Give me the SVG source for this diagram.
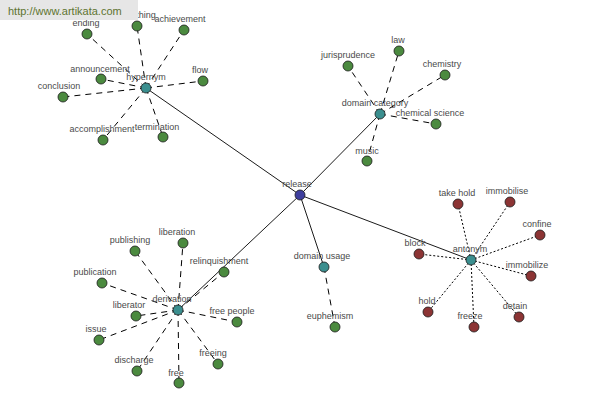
<svg xmlns="http://www.w3.org/2000/svg" width="600" height="400" viewBox="0 0 600 400">
<style>
text{font-family:"Liberation Sans",Arial,sans-serif;font-size:9px;fill:#4a4a4a;text-anchor:middle}
.n circle{stroke:#1a1a1a;stroke-width:0.8}
.g{fill:#4b8a3f}.t{fill:#3b8f8f}.r{fill:#8c3434}.b{fill:#3f3f9e}
.solid{stroke:#000;stroke-width:0.9;fill:none}
.dash{stroke:#000;stroke-width:1;stroke-dasharray:6,5;fill:none}
.dot{stroke:#000;stroke-width:1;stroke-dasharray:2,2;fill:none}
</style>
<rect width="600" height="400" fill="#fff"/>
<g id="connectors">
<line class="solid" x1="300" y1="195" x2="146" y2="88"/>
<line class="solid" x1="300" y1="195" x2="380" y2="114"/>
<line class="solid" x1="300" y1="195" x2="178" y2="310"/>
<line class="solid" x1="300" y1="195" x2="471" y2="260"/>
<line class="solid" x1="300" y1="195" x2="324" y2="267"/>
<g class="dash">
<line x1="146" y1="88" x2="87" y2="34"/>
<line x1="146" y1="88" x2="137" y2="26"/>
<line x1="146" y1="88" x2="184" y2="30"/>
<line x1="146" y1="88" x2="101" y2="79"/>
<line x1="146" y1="88" x2="203" y2="81"/>
<line x1="146" y1="88" x2="63" y2="97"/>
<line x1="146" y1="88" x2="103" y2="140"/>
<line x1="146" y1="88" x2="163" y2="137"/>
<line x1="380" y1="114" x2="399" y2="51"/>
<line x1="380" y1="114" x2="348" y2="66"/>
<line x1="380" y1="114" x2="445" y2="75"/>
<line x1="380" y1="114" x2="436" y2="124"/>
<line x1="380" y1="114" x2="367" y2="161"/>
<line x1="178" y1="310" x2="183" y2="243"/>
<line x1="178" y1="310" x2="135" y2="251"/>
<line x1="178" y1="310" x2="224" y2="272"/>
<line x1="178" y1="310" x2="102" y2="283"/>
<line x1="178" y1="310" x2="136" y2="316"/>
<line x1="178" y1="310" x2="237" y2="322"/>
<line x1="178" y1="310" x2="99" y2="340"/>
<line x1="178" y1="310" x2="137" y2="371"/>
<line x1="178" y1="310" x2="218" y2="364"/>
<line x1="178" y1="310" x2="179" y2="383"/>
<line x1="324" y1="267" x2="335" y2="327"/>
</g>
<g class="dot">
<line x1="471" y1="260" x2="458" y2="204"/>
<line x1="471" y1="260" x2="510" y2="202"/>
<line x1="471" y1="260" x2="540" y2="235"/>
<line x1="471" y1="260" x2="419" y2="254"/>
<line x1="471" y1="260" x2="531" y2="276"/>
<line x1="471" y1="260" x2="428" y2="312"/>
<line x1="471" y1="260" x2="474" y2="327"/>
<line x1="471" y1="260" x2="519" y2="317"/>
</g>
</g>
<g id="release" class="n"><circle class="b" cx="300" cy="195" r="5"/><text x="297" y="187">release</text></g>
<g id="hypernym" class="n"><circle class="t" cx="146" cy="88" r="5"/><text x="146" y="80">hypernym</text></g>
<g id="ending" class="n"><circle class="g" cx="87" cy="34" r="5"/><text x="86" y="26">ending</text></g>
<g id="thing" class="n"><circle class="g" cx="137" cy="26" r="5"/><text x="146" y="18">thing</text></g>
<g id="achievement" class="n"><circle class="g" cx="184" cy="30" r="5"/><text x="180" y="22">achievement</text></g>
<g id="announcement" class="n"><circle class="g" cx="101" cy="79" r="5"/><text x="100" y="72">announcement</text></g>
<g id="flow" class="n"><circle class="g" cx="203" cy="81" r="5"/><text x="200" y="73">flow</text></g>
<g id="conclusion" class="n"><circle class="g" cx="63" cy="97" r="5"/><text x="59" y="89">conclusion</text></g>
<g id="accomplishment" class="n"><circle class="g" cx="103" cy="140" r="5"/><text x="102" y="132">accomplishment</text></g>
<g id="termination" class="n"><circle class="g" cx="163" cy="137" r="5"/><text x="157" y="130">termination</text></g>
<g id="domain-category" class="n"><circle class="t" cx="380" cy="114" r="5"/><text x="375" y="106">domain category</text></g>
<g id="law" class="n"><circle class="g" cx="399" cy="51" r="5"/><text x="398" y="43">law</text></g>
<g id="jurisprudence" class="n"><circle class="g" cx="348" cy="66" r="5"/><text x="348" y="58">jurisprudence</text></g>
<g id="chemistry" class="n"><circle class="g" cx="445" cy="75" r="5"/><text x="442" y="67">chemistry</text></g>
<g id="chemical-science" class="n"><circle class="g" cx="436" cy="124" r="5"/><text x="430" y="116">chemical science</text></g>
<g id="music" class="n"><circle class="g" cx="367" cy="161" r="5"/><text x="367" y="154">music</text></g>
<g id="derivation" class="n"><circle class="t" cx="178" cy="310" r="5"/><text x="172" y="302">derivation</text></g>
<g id="liberation" class="n"><circle class="g" cx="183" cy="243" r="5"/><text x="177" y="235">liberation</text></g>
<g id="publishing" class="n"><circle class="g" cx="135" cy="251" r="5"/><text x="130" y="243">publishing</text></g>
<g id="relinquishment" class="n"><circle class="g" cx="224" cy="272" r="5"/><text x="219" y="264">relinquishment</text></g>
<g id="publication" class="n"><circle class="g" cx="102" cy="283" r="5"/><text x="95" y="275">publication</text></g>
<g id="liberator" class="n"><circle class="g" cx="136" cy="316" r="5"/><text x="129" y="308">liberator</text></g>
<g id="free-people" class="n"><circle class="g" cx="237" cy="322" r="5"/><text x="232" y="314">free people</text></g>
<g id="issue" class="n"><circle class="g" cx="99" cy="340" r="5"/><text x="96" y="332">issue</text></g>
<g id="discharge" class="n"><circle class="g" cx="137" cy="371" r="5"/><text x="134" y="363">discharge</text></g>
<g id="freeing" class="n"><circle class="g" cx="218" cy="364" r="5"/><text x="213" y="356">freeing</text></g>
<g id="free" class="n"><circle class="g" cx="179" cy="383" r="5"/><text x="176" y="376">free</text></g>
<g id="antonym" class="n"><circle class="t" cx="471" cy="260" r="5"/><text x="470" y="252">antonym</text></g>
<g id="take-hold" class="n"><circle class="r" cx="458" cy="204" r="5"/><text x="457" y="196">take hold</text></g>
<g id="immobilise" class="n"><circle class="r" cx="510" cy="202" r="5"/><text x="507" y="194">immobilise</text></g>
<g id="confine" class="n"><circle class="r" cx="540" cy="235" r="5"/><text x="537" y="227">confine</text></g>
<g id="block" class="n"><circle class="r" cx="419" cy="254" r="5"/><text x="415" y="246">block</text></g>
<g id="immobilize" class="n"><circle class="r" cx="531" cy="276" r="5"/><text x="527" y="268">immobilize</text></g>
<g id="hold" class="n"><circle class="r" cx="428" cy="312" r="5"/><text x="427" y="304">hold</text></g>
<g id="freeze" class="n"><circle class="r" cx="474" cy="327" r="5"/><text x="470" y="319">freeze</text></g>
<g id="detain" class="n"><circle class="r" cx="519" cy="317" r="5"/><text x="515" y="309">detain</text></g>
<g id="domain-usage" class="n"><circle class="t" cx="324" cy="267" r="5"/><text x="322" y="259">domain usage</text></g>
<g id="euphemism" class="n"><circle class="g" cx="335" cy="327" r="5"/><text x="330" y="319">euphemism</text></g>
<g id="watermark">
<rect x="0" y="0" width="138" height="20" fill="#e6e6e6"/>
<text x="8" y="15" style="text-anchor:start;font-size:11px;fill:#5e7430">http://www.artikata.com</text>
</g>
</svg>
